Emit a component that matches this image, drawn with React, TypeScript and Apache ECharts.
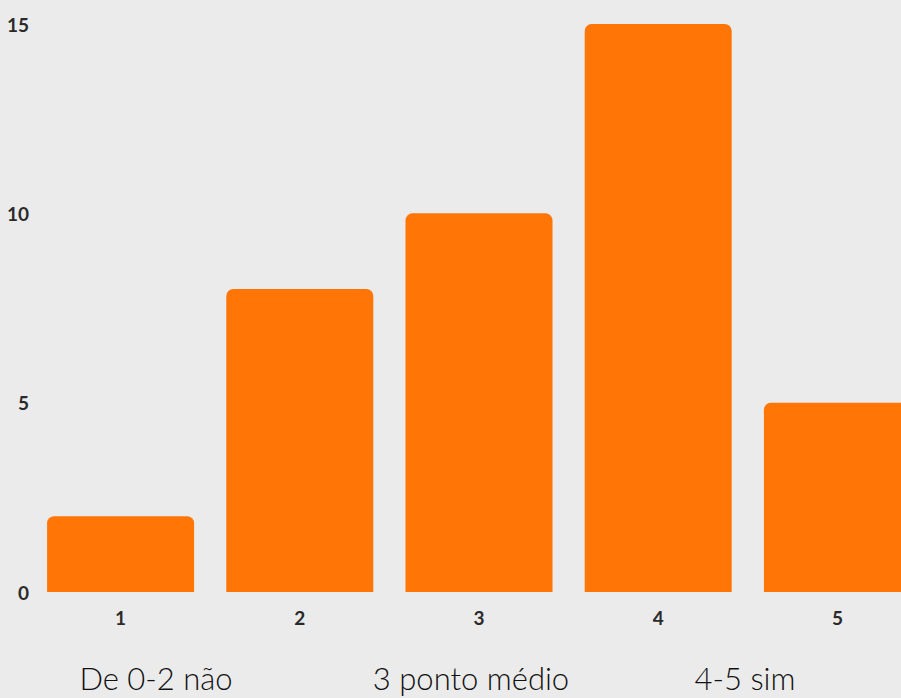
import React, { useEffect, useRef } from "react";
import * as echarts from "echarts";

const categories = ["1", "2", "3", "4", "5"];
const values = [2, 8, 10, 15, 5];
const yTicks = [0, 5, 10, 15];
const notes = ["De 0-2 não", "3 ponto médio", "4-5 sim"];

export default function App() {
  const ref = useRef<HTMLDivElement>(null);
  useEffect(() => {
    const chart = echarts.init(ref.current!, null, { renderer: "svg" });
    const noteX = [156, 471, 745];
    chart.setOption({
      animation: false,
      backgroundColor: "#ebebeb",
      grid: { left: 31, right: 3, top: 24, bottom: 106, containLabel: false },
      xAxis: {
        type: "category",
        data: categories,
        axisLine: { show: false },
        axisTick: { show: false },
        axisLabel: {
          margin: 16,
          fontSize: 19,
          fontWeight: "bold",
          color: "#2a2a2a",
          fontFamily: "Lato",
        },
      },
      yAxis: {
        type: "value",
        min: yTicks[0],
        max: yTicks[yTicks.length - 1],
        interval: 5,
        splitLine: { show: false },
        axisLine: { show: false },
        axisTick: { show: false },
        axisLabel: {
          margin: 2,
          fontSize: 19,
          fontWeight: "bold",
          color: "#2a2a2a",
          fontFamily: "Lato",
        },
      },
      series: [
        {
          type: "bar",
          data: values,
          barWidth: 147,
          itemStyle: { color: "#ff7506", borderRadius: [7, 7, 0, 0] },
        },
      ],
      graphic: notes.map((t, i) => ({
        type: "text",
        x: noteX[i],
        y: 678,
        style: {
          text: t,
          fontSize: 31,
          fontWeight: 300,
          fontFamily: "Lato",
          fill: "#111111",
          align: "center",
          verticalAlign: "middle",
        },
      })),
    });
    return () => chart.dispose();
  }, []);
  return (
    <div
      style={{
        position: "fixed",
        left: 0,
        top: 0,
        width: 901,
        height: 698,
        overflow: "hidden",
        background: "#ebebeb",
      }}
    >
      <div ref={ref} style={{ width: 930, height: 698 }} />
    </div>
  );
}
